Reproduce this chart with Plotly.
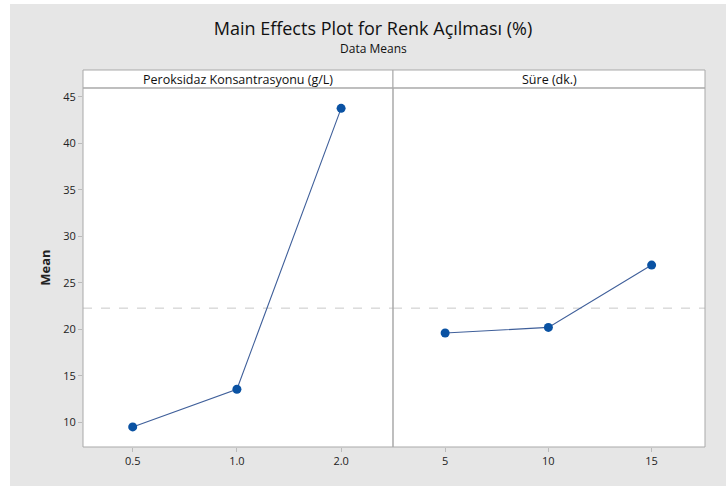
import plotly.graph_objects as go

# Data
conc_levels = ["0.5", "1.0", "2.0"]
conc_means = [9.5, 13.55, 43.75]
time_levels = ["5", "10", "15"]
time_means = [19.6, 20.2, 26.9]
grand_mean = 22.27
panel_titles = ["Peroksidaz Konsantrasyonu (g/L)", "Süre (dk.)"]
y_ticks = [10, 15, 20, 25, 30, 35, 40, 45]

EXTRA = 16  # figure slightly larger than the window; the overflow is hidden
W, H = 726 + EXTRA, 486 + EXTRA
L, R, T, B = 83, 21 + EXTRA, 70, 39 + EXTRA
plot_w = W - L - R
plot_h = H - T - B
split = (393 - L) / plot_w
ytop = (447 - 88) / plot_h

FONT = "Open Sans"
BLUE = "#0a52a3"
LINE = "#3f5f9a"
FRAME = "#a9a9a9"
BG = "#e6e6e6"
TITLE_CX = 373

fig = go.Figure()
fig.add_trace(go.Scatter(x=conc_levels, y=conc_means, mode="lines+markers",
                         xaxis="x", yaxis="y",
                         line=dict(color=LINE, width=1.1),
                         marker=dict(color=BLUE, size=9), showlegend=False))
fig.add_trace(go.Scatter(x=time_levels, y=time_means, mode="lines+markers",
                         xaxis="x2", yaxis="y",
                         line=dict(color=LINE, width=1.1),
                         marker=dict(color=BLUE, size=9), showlegend=False))

axis_common = dict(type="category", showgrid=False, zeroline=False,
                   ticks="outside", ticklen=4, tickcolor="#bbbbbb",
                   tickfont=dict(family=FONT, size=11, color="#222222"),
                   showline=False)
px = lambda x: (x - L) / plot_w
py = lambda y: (H - B - y) / plot_h

fig.update_layout(
    width=W, height=H,
    margin=dict(l=L, r=R, t=T, b=B),
    paper_bgcolor=BG, plot_bgcolor="white",
    xaxis=dict(domain=[0, split], range=[-0.477, 2.498], **axis_common),
    xaxis2=dict(domain=[split, 1], range=[-0.505, 2.517], anchor="y", **axis_common),
    yaxis=dict(domain=[0, ytop], range=[7.34, 45.94], tickvals=y_ticks,
               showgrid=False, zeroline=False, ticks="outside", ticklen=4,
               tickcolor="#bbbbbb",
               tickfont=dict(family=FONT, size=11, color="#222222"),
               title=dict(text="<b>Mean</b>", font=dict(family=FONT, size=13, color="#222222"),
                          standoff=9)),
    title=dict(text="Main Effects Plot for Renk Açılması (%)",
               x=px(TITLE_CX), xref="paper", xanchor="center",
               y=1 - 29 / H, yanchor="middle",
               font=dict(family=FONT, size=18, color="#111111")),
    font=dict(family=FONT),
)

shapes = []
# white border strips on left and top of the page
shapes.append(dict(type="rect", xref="paper", yref="paper", x0=px(0), x1=px(10), y0=py(H), y1=py(0),
                   fillcolor="white", line=dict(width=0), layer="below"))
shapes.append(dict(type="rect", xref="paper", yref="paper", x0=px(0), x1=px(W), y0=py(4), y1=py(0),
                   fillcolor="white", line=dict(width=0), layer="below"))
# strips and panel frames
for x0, x1 in [(0, split), (split, 1)]:
    shapes.append(dict(type="rect", xref="paper", yref="paper", x0=x0, x1=x1, y0=ytop, y1=1,
                       fillcolor="white", line=dict(color=FRAME, width=1)))
    shapes.append(dict(type="rect", xref="paper", yref="paper", x0=x0, x1=x1, y0=0, y1=ytop,
                       line=dict(color=FRAME, width=1)))
# grand mean line
for xr in ["x domain", "x2 domain"]:
    shapes.append(dict(type="line", xref=xr, yref="y", x0=0, x1=1, y0=grand_mean, y1=grand_mean,
                       line=dict(color="#c8c8c8", width=1, dash="dash"), layer="below"))
fig.update_layout(shapes=shapes)

annotations = [
    dict(text="Data Means", x=px(TITLE_CX), xref="paper", y=py(48), yref="paper", showarrow=False,
         xanchor="center", yanchor="middle", font=dict(family=FONT, size=12, color="#111111")),
]
for (x0, x1), t in zip([(0, split), (split, 1)], panel_titles):
    annotations.append(dict(text=t, x=(x0 + x1) / 2, xref="paper", y=(ytop + 1) / 2, yref="paper",
                            showarrow=False, xanchor="center", yanchor="middle",
                            font=dict(family=FONT, size=12.5, color="#111111")))
fig.update_layout(annotations=annotations)

fig.write_html(
    "out.html",
    config={"displayModeBar": False},
    post_script=(
        "document.body.style.margin='0px';"
        "document.body.style.overflow='hidden';"
        "document.body.style.background='" + BG + "';"
        "document.documentElement.style.background='" + BG + "';"
        "document.documentElement.style.overflow='hidden';"
    ),
)
